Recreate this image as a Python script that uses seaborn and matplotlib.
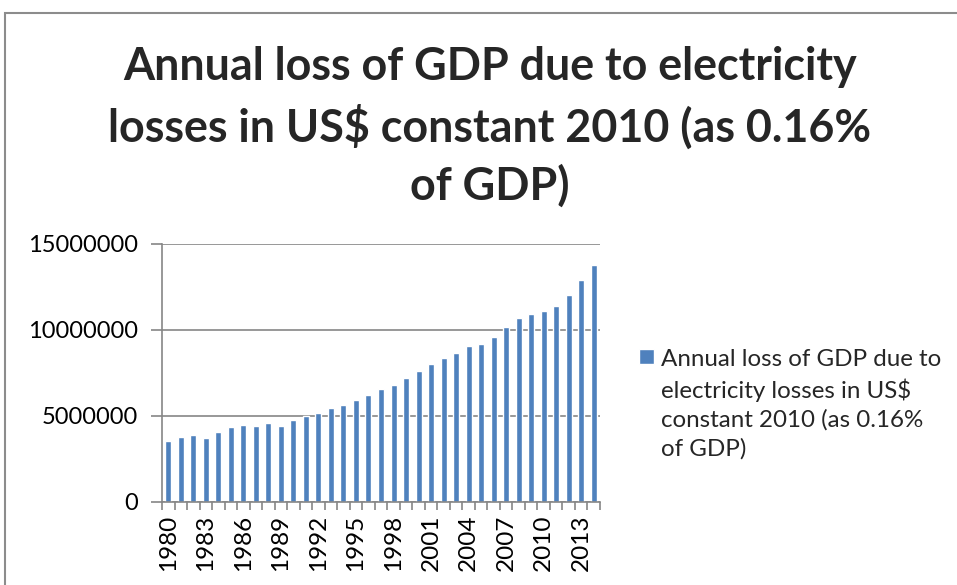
import matplotlib
matplotlib.use('Agg')
import matplotlib.pyplot as plt
import matplotlib.patches as mpatches
import seaborn as sns
import pandas as pd

years = list(range(1980, 2015))
loss = [3530000, 3800000, 3880000, 3740000, 4050000, 4340000, 4500000, 4420000, 4570000, 4420000,
        4790000, 5000000, 5160000, 5450000, 5620000, 5910000, 6200000, 6570000, 6780000, 7190000,
        7620000, 8000000, 8370000, 8660000, 9050000, 9190000, 9570000, 10150000, 10680000, 10910000,
        11120000, 11410000, 12010000, 12930000, 13760000]
year_labels = [str(y) for y in years]
y_ticks = [0, 5000000, 10000000, 15000000]
y_tick_labels = [str(v) for v in y_ticks]

title_text = 'Annual loss of GDP due to electricity\nlosses in US\\$ constant 2010 (as 0.16%\nof GDP)'
legend_text = 'Annual loss of GDP due to\nelectricity losses in US\\$\nconstant 2010 (as 0.16%\nof GDP)'

BAR_COLOR = '#4F81BD'
GRID_COLOR = '#868686'

sns.set_theme(style='white')
plt.rcParams['font.family'] = ['Lato', 'DejaVu Sans']

df = pd.DataFrame({'year': year_labels, 'loss': loss})

fig = plt.figure(figsize=(9.57, 5.85), dpi=100)
ax = fig.add_axes([162 / 957, 1 - 502 / 585, 438 / 957, 258 / 585])

sns.barplot(data=df, x='year', y='loss', color=BAR_COLOR, saturation=1,
            width=0.48, label=legend_text, ax=ax)

ax.set_xlim(-0.5, len(years) - 0.5)
ax.set_ylim(0, 15000000)
ax.set_xlabel('')
ax.set_ylabel('')

# labels every third year, tick marks between every category (excel style)
ax.set_xticks(range(0, len(years), 3))
ax.set_xticklabels(year_labels[::3], rotation=90, fontsize=17.5)
ax.set_xticks([i - 0.5 for i in range(len(years) + 1)], minor=True)
ax.tick_params(axis='x', which='major', length=0, pad=9, colors='black')
ax.tick_params(axis='x', which='minor', length=6, width=1.2, color=GRID_COLOR, bottom=True)

ax.set_yticks(y_ticks)
ax.set_yticklabels(y_tick_labels, fontsize=17)
ax.tick_params(axis='y', length=8, width=1.2, color=GRID_COLOR, pad=9, left=True, labelcolor='black')

ax.yaxis.grid(True, color=GRID_COLOR, lw=1.2)
ax.set_axisbelow(True)
for side in ['top', 'right']:
    ax.spines[side].set_visible(False)
for side in ['left', 'bottom']:
    ax.spines[side].set_color(GRID_COLOR)
    ax.spines[side].set_linewidth(1.2)

fig.suptitle(title_text, x=490 / 957, y=1 - 127 / 585, va='center', fontsize=32.3,
             fontweight='bold', linespacing=1.42)

leg = ax.legend(loc='upper left', bbox_to_anchor=(627 / 957, 1 - 337 / 585),
                bbox_transform=fig.transFigure, frameon=False, borderpad=0,
                handlelength=0.6, handleheight=0.6, handletextpad=0.3, fontsize=17.4)
leg.get_texts()[0].set_linespacing(1.42)
# put the square next to the first line of the label, not the last
leg._legend_handle_box.get_children()[0].get_children()[0].align = 'top'

# outer chart border, cut off by the image edge on the right and bottom
fig.add_artist(mpatches.Rectangle((5 / 957, -0.1), 1.2, 1.1 - 13 / 585,
                                  transform=fig.transFigure, fill=False,
                                  edgecolor='#8c8c8c', lw=1.5))

fig.savefig('out.png', dpi=100, facecolor='white')
